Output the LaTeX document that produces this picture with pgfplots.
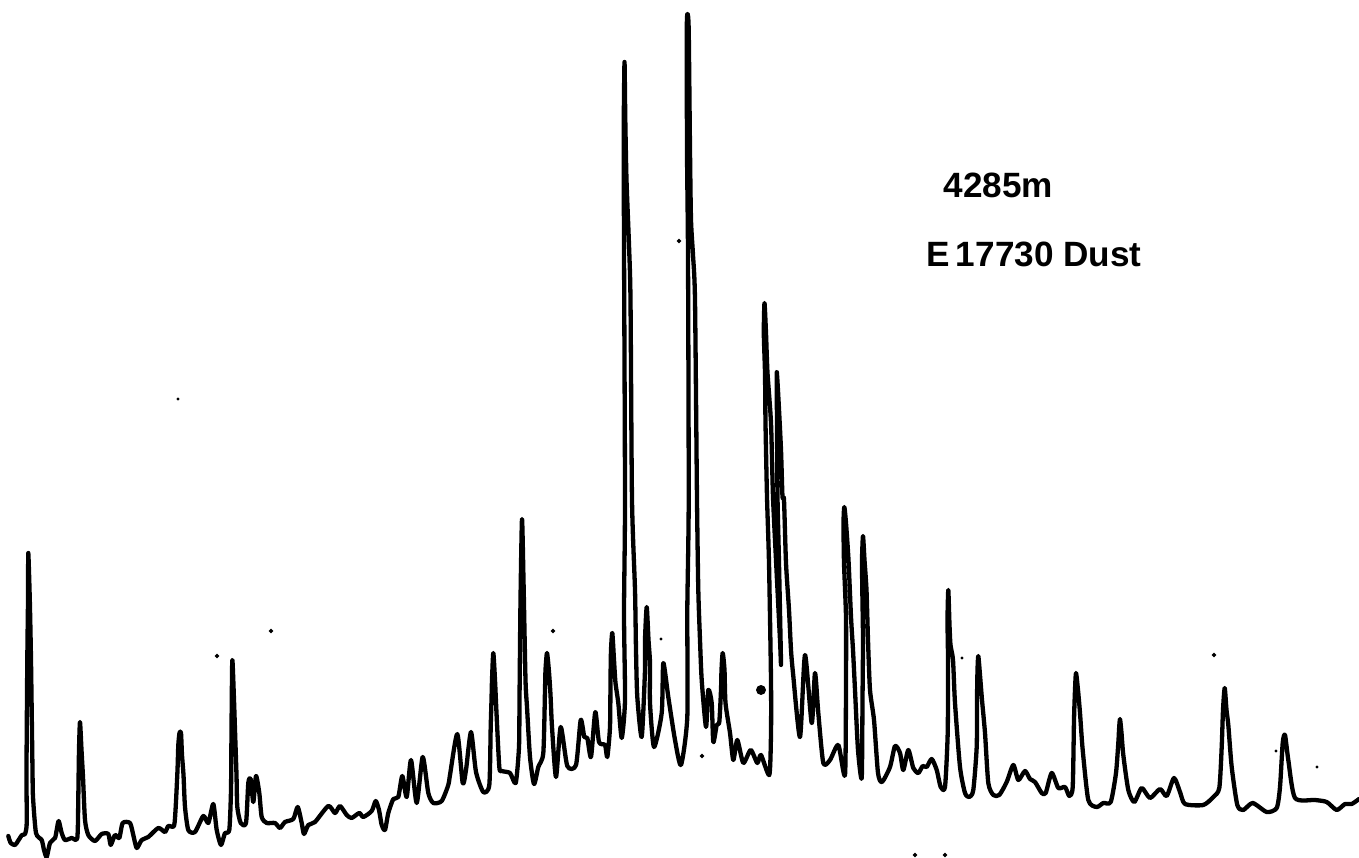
\documentclass[border=0pt]{standalone}
\usepackage{pgfplots}
\pgfplotsset{compat=1.18}
\usepackage{fontspec}
\setmainfont{Liberation Sans}
\begin{document}
\begin{tikzpicture}[x=1cm,y=1cm]
\useasboundingbox (0,0) rectangle (13.59,8.58);
\begin{axis}[at={(0,0)},anchor=south west,width=13.59cm,height=8.58cm,scale only axis,
  xmin=0,xmax=1359,ymin=0,ymax=858,y dir=reverse,hide axis,clip=false]
\addplot[black,line width=0.043cm,line join=round,line cap=round,smooth,tension=0.4] table {
8.3 836
10.7 843
15 845
18 841
22 835
25 834
26.7 823
26.5 770
27.3 660
28 600
28.3 553
29.8 600
31 660
32.5 770
33 797
36 833
41.7 840
44 850
46.7 857
50 843
55 838
56.7 830
58.7 821
61.7 833
65 840
71.7 838
77.3 838
78.3 797
79 750
80 722
81.5 750
83 777
85 820
88.3 835
95 841
101.7 834
108.3 834
110.7 845
115 835
119.3 838
122.7 823
130 823
133.3 835
136.7 848
141.7 840
148.3 837
158.3 828
165 832
168.3 826
174 826
175.7 807
177.5 770
178.3 745
179.5 733
181 733
182 755
183.5 775
185 807
188.3 830
195 832
203.3 816
208.3 823
213.3 804
216.7 830
221 845
225 833
229.3 830
231 790
231.5 730
232.3 660
234 700
235 730
236.5 775
237.3 807
240.7 823
246 823
248.3 783
250.7 779
253.3 802
256 776
259.3 793
261.7 817
266.7 823
275 823
280 828
285 822
293.3 819
297.7 807
301.7 823
304 834
308.3 825
315 822
328.3 806
335 813
340 806
346.7 815
351.7 818
359.3 813
363.3 817
371.7 811
375.7 801
379 810
381.7 825
385 830
388.3 813
393.3 799
398.3 797
402.3 776
406.7 797
411 760
416.7 803
422.7 757
428.3 793
433.3 803
441.7 801
448.3 785
450 775
457.3 734
462.7 783
466 770
471 732
476 772
483.3 792
489.3 785
490.7 727
491.5 700
492 680
493.3 653
495 680
496.5 713
499.3 767
501.7 771
510 773
515.7 783
519 747
519.5 700
520.5 600
522 519
523.5 580
525.5 680
527 707
530 757
534 784
538.3 767
543.3 753
545 690
545.5 670
547 653
549 672
550.5 695
552 727
556 777
560.7 727
567.3 766
576 765
580.7 720
584.3 737
587.3 738
591 757
595.3 712
599 742
605 745
607.3 757
610 727
610.5 680
611 650
612.3 633
614 660
615.5 683
618.3 703
621.7 738
625 700
624 613
625 500
624 245
623.7 133
624.5 62
625.3 120
626.5 180
629 245
630.5 300
632 500
635 590
636 650
637.3 697
641.7 737
645 670
645 640
646.7 607
648.5 640
650 663
650 703
654 747
661.7 713
663.3 663
668.3 697
675 740
681 765
687.3 717
687.3 610
688.7 500
688 255
687 150
686.8 30
687.5 14
688.7 30
690 150
691 220
693 255
695 300
697 500
698.3 590
700 640
701.7 680
706 727
708.3 690
711.7 703
713.3 742
716.7 725
719.3 722
721 690
721.5 670
722.7 653
724.5 670
725.5 703
730 733
733.3 760
737.3 740
743.3 763
750.7 750
757.3 763
761 755
769.3 775
771 733
771 680
769 563
767 497
765.5 423
765 373
763.8 333
764.5 303
766 333
767.5 373
771 423
773 497
776 560
780 640
781 663
779 563
777.5 497
777 423
776.7 372
778.5 400
781 450
782.5 497
784 500
786 563
789 610
791 650
793 673
800 737
805 655
811.7 723
815 673
818.3 713
823.3 763
830 760
838.3 745
845 775
846 680
846 617
844 563
843.5 523
844.3 507
846 523
848.5 560
851 617
853 650
855 690
858 750
861.7 778
862.5 700
863 640
862.3 590
862 560
863 536
864.5 560
866.5 590
868 640
870 690
874 720
878 773
882 782
890 767
895 746
900 753
903.3 770
908.3 750
913.3 768
918.3 773
922.7 766
926.7 767
931.7 759
936.7 770
940.7 787
945 787
947.7 733
948 660
947.5 620
948.3 590
949.5 625
950.5 645
953 660
955 703
960 767
965 793
969.3 797
973.3 790
976.7 747
977 700
977.5 670
978.3 656
980 675
982 700
985 733
988.3 783
993.3 795
999.3 795
1006.7 782
1013.3 765
1018.3 780
1025 771
1030 779
1035 782
1041.7 793
1045.7 793
1051.7 773
1058.3 788
1065 787
1069.3 796
1072.7 787
1074 720
1075 690
1076 673
1078 690
1080 713
1082.7 750
1088.3 800
1096.7 807
1103.3 803
1110.7 802
1116 773
1118.5 740
1119 730
1120 719
1121.5 733
1123.3 755
1128.3 790
1134.3 802
1141.7 788
1150 798
1160 789
1166.7 796
1174 778
1180 792
1185 804
1203.3 805
1213.3 797
1219.3 788
1221.7 747
1223 710
1224.7 688
1226.5 710
1228.3 725
1231.7 767
1237.3 805
1243.3 810
1252.7 803
1266.7 812
1276.7 808
1280 787
1282.7 743
1285 735
1288.3 760
1295 798
1315 800
1326.7 802
1336.7 810
1345 804
1351.7 804
1359 799
};
\addplot[only marks,mark=*,mark size=0.38pt,black] table {
271 631
217 656
553 631
679 241
702 756
1214 655
915 855
945 855
};
\addplot[only marks,mark=*,mark size=0.2pt,black] table {
178 399
661 639
962 658
1276 751
1317 767
};
\addplot[only marks,mark=*,mark size=1.2pt,black] table {
761 690
};
\node[anchor=base west,inner sep=0pt,font=\bfseries\fontsize{10}{12}\selectfont] at (axis cs:943,198) {4285m};
\node[anchor=base west,inner sep=0pt,font=\bfseries\fontsize{10}{12}\selectfont] at (axis cs:926,267) {E\,17730 Dust};
\end{axis}
\end{tikzpicture}
\end{document}
